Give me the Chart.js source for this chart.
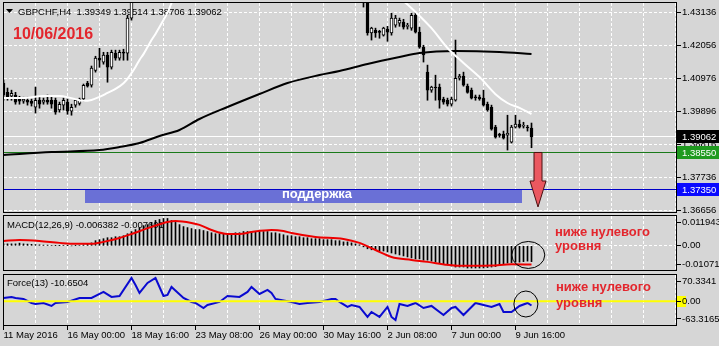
<!DOCTYPE html>
<html>
<head>
<meta charset="utf-8">
<title>GBPCHF H4</title>
<script src="https://cdn.jsdelivr.net/npm/chart.js@4.4.1/dist/chart.umd.min.js"></script>
<style>
  html, body { margin: 0; padding: 0; }
  body { width: 719px; height: 346px; background: #d6d6d6; position: relative; overflow: hidden; }
  canvas { position: absolute; left: 0; }
</style>
</head>
<body>
<canvas id="mainChart" width="719" height="213" style="top:0"></canvas>
<canvas id="macdChart" width="719" height="59" style="top:213px"></canvas>
<canvas id="forceChart" width="719" height="74" style="top:272px"></canvas>
<script>
// ---- H4 candles, bar 0 = 11 May 2016 08:00, bar 132 = 10 Jun 2016 08:00 ----
const opens = [
  1.4082, 1.4052, 1.4039, 1.4043, 1.4033, 1.4023, 1.4026, 1.4023, 1.4003, 1.4026,
  1.4020, 1.4026, 1.4026, 1.4026, 1.3994, 1.4010, 1.4020, 1.3990, 1.4010, 1.4016,
  1.4030, 1.4082, 1.4075, 1.4124, 1.4164, 1.4151, 1.4174, 1.4134, 1.4180, 1.4164,
  1.4183, 1.4180, 1.4295, 1.4386, 1.4400, 1.4425, 1.4440, 1.4460, 1.4452, 1.4470,
  1.4485, 1.4478, 1.4490, 1.4470, 1.4462, 1.4475, 1.4468, 1.4455, 1.4470, 1.4482,
  1.4495, 1.4488, 1.4476, 1.4490, 1.4505, 1.4498, 1.4510, 1.4522, 1.4515, 1.4530,
  1.4525, 1.4512, 1.4520, 1.4535, 1.4528, 1.4516, 1.4505, 1.4512, 1.4500, 1.4488,
  1.4495, 1.4480, 1.4472, 1.4485, 1.4478, 1.4465, 1.4470, 1.4458, 1.4462, 1.4450,
  1.4455, 1.4442, 1.4448, 1.4436, 1.4440, 1.4428, 1.4420, 1.4412, 1.4405, 1.4398,
  1.4388, 1.4350, 1.4246, 1.4255, 1.4249, 1.4239, 1.4259, 1.4246, 1.4272, 1.4278,
  1.4282, 1.4268, 1.4262, 1.4304, 1.4249, 1.4200, 1.4118, 1.4059, 1.4069, 1.4069,
  1.4030, 1.4026, 1.4013, 1.4026, 1.4098, 1.4105, 1.4072, 1.4059, 1.4036, 1.4036,
  1.4033, 1.4013, 1.4003, 1.3938, 1.3912, 1.3915, 1.3912, 1.3889, 1.3938, 1.3948,
  1.3941, 1.3938, 1.39349
];
const highs = [
  1.4092, 1.4066, 1.4059, 1.4052, 1.4039, 1.4036, 1.4036, 1.4030, 1.4069, 1.4039,
  1.4033, 1.4043, 1.4039, 1.4033, 1.4020, 1.4033, 1.4030, 1.4013, 1.4030, 1.4033,
  1.4079, 1.4088, 1.4138, 1.4170, 1.4196, 1.4183, 1.4183, 1.4190, 1.4190, 1.4190,
  1.4193, 1.4304, 1.4419, 1.4412, 1.4432, 1.4448, 1.4468, 1.4466, 1.4478, 1.4492,
  1.4494, 1.4498, 1.4496, 1.4478, 1.4484, 1.4482, 1.4474, 1.4478, 1.4490, 1.4502,
  1.4500, 1.4494, 1.4498, 1.4512, 1.4510, 1.4518, 1.4530, 1.4528, 1.4538, 1.4536,
  1.4530, 1.4528, 1.4542, 1.4540, 1.4534, 1.4522, 1.4520, 1.4518, 1.4506, 1.4502,
  1.4500, 1.4486, 1.4492, 1.4490, 1.4484, 1.4478, 1.4476, 1.4470, 1.4468, 1.4462,
  1.4460, 1.4455, 1.4454, 1.4448, 1.4446, 1.4434, 1.4426, 1.4418, 1.4410, 1.4404,
  1.4396, 1.4360, 1.4265, 1.4262, 1.4255, 1.4265, 1.4268, 1.4311, 1.4304, 1.4295,
  1.4291, 1.4278, 1.4311, 1.4314, 1.4265, 1.4206, 1.4141, 1.4072, 1.4108, 1.4079,
  1.4036, 1.4033, 1.4036, 1.4223, 1.4111, 1.4118, 1.4079, 1.4066, 1.4043, 1.4043,
  1.4059, 1.4020, 1.4010, 1.3944, 1.3918, 1.3925, 1.3977, 1.3944, 1.3977, 1.3961,
  1.3954, 1.3944, 1.39514
];
const lows = [
  1.4026, 1.4026, 1.4026, 1.4013, 1.4013, 1.4016, 1.4010, 1.4007, 1.3984, 1.4000,
  1.4013, 1.4013, 1.4000, 1.3980, 1.3987, 1.3994, 1.3980, 1.3977, 1.4003, 1.4010,
  1.4023, 1.4069, 1.4069, 1.4118, 1.4134, 1.4144, 1.4085, 1.4128, 1.4157, 1.4157,
  1.4157, 1.4157, 1.4288, 1.4378, 1.4392, 1.4415, 1.4432, 1.4444, 1.4446, 1.4464,
  1.4470, 1.4472, 1.4462, 1.4452, 1.4456, 1.4460, 1.4446, 1.4450, 1.4464, 1.4476,
  1.4480, 1.4468, 1.4470, 1.4484, 1.4490, 1.4492, 1.4504, 1.4508, 1.4510, 1.4518,
  1.4504, 1.4506, 1.4514, 1.4520, 1.4508, 1.4498, 1.4500, 1.4492, 1.4480, 1.4482,
  1.4472, 1.4464, 1.4466, 1.4470, 1.4458, 1.4460, 1.4450, 1.4452, 1.4442, 1.4444,
  1.4436, 1.4436, 1.4428, 1.4430, 1.4420, 1.4412, 1.4404, 1.4398, 1.4390, 1.4382,
  1.4331, 1.4239, 1.4223, 1.4232, 1.4229, 1.4236, 1.4219, 1.4239, 1.4265, 1.4268,
  1.4259, 1.4259, 1.4255, 1.4246, 1.4196, 1.4151, 1.4026, 1.4052, 1.4026, 1.4000,
  1.4013, 1.4007, 1.4007, 1.4023, 1.4092, 1.4072, 1.4049, 1.4030, 1.4026, 1.4026,
  1.4007, 1.3990, 1.3928, 1.3902, 1.3905, 1.3899, 1.3863, 1.3886, 1.3935, 1.3935,
  1.3935, 1.3925, 1.38706
];
const closes = [
  1.4043, 1.4036, 1.4049, 1.4020, 1.4023, 1.4030, 1.4020, 1.4016, 1.4026, 1.4013,
  1.4026, 1.4020, 1.4013, 1.3987, 1.4013, 1.4026, 1.3990, 1.4003, 1.4026, 1.4030,
  1.4075, 1.4072, 1.4131, 1.4164, 1.4157, 1.4174, 1.4134, 1.4183, 1.4164, 1.4183,
  1.4180, 1.4295, 1.4386, 1.4400, 1.4425, 1.4440, 1.4460, 1.4452, 1.4470, 1.4485,
  1.4478, 1.4490, 1.4470, 1.4462, 1.4475, 1.4468, 1.4455, 1.4470, 1.4482, 1.4495,
  1.4488, 1.4476, 1.4490, 1.4505, 1.4498, 1.4510, 1.4522, 1.4515, 1.4530, 1.4525,
  1.4512, 1.4520, 1.4535, 1.4528, 1.4516, 1.4505, 1.4512, 1.4500, 1.4488, 1.4495,
  1.4480, 1.4472, 1.4485, 1.4478, 1.4465, 1.4470, 1.4458, 1.4462, 1.4450, 1.4455,
  1.4442, 1.4448, 1.4436, 1.4440, 1.4428, 1.4420, 1.4412, 1.4405, 1.4398, 1.4388,
  1.4350, 1.4246, 1.4262, 1.4246, 1.4248, 1.4262, 1.4249, 1.4295, 1.4295, 1.4288,
  1.4265, 1.4270, 1.4304, 1.4249, 1.4200, 1.4174, 1.4059, 1.4069, 1.4066, 1.4026,
  1.4020, 1.4013, 1.4030, 1.4098, 1.4105, 1.4075, 1.4052, 1.4033, 1.4034, 1.4030,
  1.4010, 1.3994, 1.3931, 1.3905, 1.3911, 1.3902, 1.3918, 1.3938, 1.3948, 1.3938,
  1.3942, 1.3935, 1.39062
];

// moving averages (white = fast, black = slow), read at bar positions
const fastMaBars = [0, 5, 10, 14, 17, 20, 22, 24, 26, 28, 30, 31, 32, 33, 34, 35, 36, 37, 38, 39, 40, 41, 42, 43, 46, 55, 75, 90, 97, 100, 103, 107, 111, 115, 119, 123, 126, 129, 132];
const fastMaVals = [1.4033, 1.4033, 1.4040, 1.4040, 1.4033, 1.4024, 1.4027, 1.4037, 1.4050, 1.4063, 1.4082, 1.4096, 1.4115, 1.4135, 1.4158, 1.4177, 1.4200, 1.4223, 1.4243, 1.4266, 1.4289, 1.4312, 1.4344, 1.4371, 1.4436, 1.4501, 1.4518, 1.4452, 1.4387, 1.4351, 1.4315, 1.4262, 1.4197, 1.4148, 1.4102, 1.4046, 1.4017, 1.4001, 1.3981];
const slowMaBars = [0, 12, 24, 29, 34, 39, 44, 49, 56, 64, 71, 79, 84, 91, 99, 104, 113, 124, 132];
const slowMaVals = [1.38467, 1.38566, 1.38631, 1.38729, 1.38860, 1.39089, 1.39286, 1.39646, 1.40039, 1.40464, 1.40824, 1.41086, 1.41217, 1.41446, 1.41675, 1.41806, 1.41872, 1.41839, 1.41773];

// horizontal levels: bid, green line, support
const levelPrices = [1.39062, 1.38550, 1.37350];
const supportBars = [20.4, 129.6];
const supportPrices = [1.37350, 1.36880];
const arrowBar = 133.7;
const arrowPrices = [1.38550, 1.37617, 1.36766];

// MACD(12,26,9)
const macdHist = [
  0.0008, 0.0008, 0.0008, 0.0008, 0.0011, 0.0008, 0.0007, 0.0006, 0.0005, 0.0004,
  0.0003, 0.0003, 0.0002, 0.0001, 0.0001, 0.0002, 0.0001, 0.0000, 0.0001, 0.0002,
  0.0004, 0.0007, 0.0012, 0.0021, 0.0025, 0.0029, 0.0033, 0.0033, 0.0037, 0.0037,
  0.0041, 0.0049, 0.0058, 0.0066, 0.0074, 0.0082, 0.0086, 0.0095, 0.0103, 0.0107,
  0.0111, 0.0111, 0.0103, 0.0095, 0.0086, 0.0078, 0.0074, 0.0070, 0.0066, 0.0066,
  0.0062, 0.0058, 0.0053, 0.0049, 0.0049, 0.0049, 0.0049, 0.0049, 0.0053, 0.0053,
  0.0058, 0.0058, 0.0058, 0.0058, 0.0058, 0.0058, 0.0058, 0.0053, 0.0053, 0.0049,
  0.0045, 0.0041, 0.0041, 0.0037, 0.0037, 0.0033, 0.0033, 0.0029, 0.0029, 0.0029,
  0.0025, 0.0025, 0.0025, 0.0021, 0.0021, 0.0016, 0.0016, 0.0012, 0.0008, 0.0004,
  -0.0004, -0.0012, -0.0016, -0.0016, -0.0021, -0.0021, -0.0025, -0.0029, -0.0033, -0.0037,
  -0.0041, -0.0045, -0.0049, -0.0053, -0.0053, -0.0058, -0.0058, -0.0062, -0.0066, -0.0070,
  -0.0074, -0.0078, -0.0082, -0.0086, -0.0086, -0.0086, -0.0090, -0.0090, -0.0090, -0.0090,
  -0.0090, -0.0088, -0.0086, -0.0084, -0.0078, -0.0074, -0.0070, -0.0068, -0.0066, -0.0066,
  -0.0064, -0.0062, -0.0064
];
const macdSigBars = [0, 4, 9, 14, 18, 22, 25, 29, 32, 37, 41, 43, 47, 49, 52, 56, 59, 62, 67, 70, 72, 78, 85, 89, 93, 97, 102, 106, 111, 114, 118, 122, 127, 132];
const macdSigVals = [0.0020, 0.0024, 0.0020, 0.0012, 0.0008, 0.0008, 0.0016, 0.0032, 0.0048, 0.0077, 0.0097, 0.0101, 0.0093, 0.0085, 0.0064, 0.0048, 0.0048, 0.0056, 0.0064, 0.0060, 0.0052, 0.0036, 0.0028, 0.0012, -0.0017, -0.0045, -0.0057, -0.0065, -0.0077, -0.0081, -0.0081, -0.0080, -0.0075, -0.0076];

// Force(13)
const forceBars = [0, 2, 3, 5, 7, 8, 10, 12, 13, 16, 19, 22, 25, 27, 29, 32, 33, 34, 36, 38, 40, 41, 42, 45, 47, 48, 50, 51, 54, 56, 59, 61, 62, 64, 66, 67, 68, 72, 74, 76, 79, 82, 83, 84, 86, 87, 89, 91, 92, 94, 96, 97, 98, 99, 101, 103, 105, 107, 110, 112, 113, 115, 117, 118, 120, 122, 124, 125, 127, 129, 131, 132];
const forceVals = [8.7, 11.3, 8.7, 6.2, -4.1, -6.7, -4.1, -11.8, -4.1, -1.5, 8.7, 8.7, 24.2, 11.3, 13.9, 60.1, 42.1, 21.6, 47.3, 60.1, 13.9, 16.4, 37.0, 8.7, -1.5, -4.1, -17.0, -9.3, -1.5, 13.9, 11.3, 24.2, 37.0, 19.0, 29.3, 21.6, 6.2, -1.5, -6.7, -4.1, -1.5, 6.2, 6.2, -1.5, -14.4, -9.3, -14.4, -40.1, -27.2, -40.1, -14.4, -40.1, -47.8, -6.7, -11.8, -4.1, -17.0, -11.8, -35.0, -17.0, -14.4, -35.0, -14.4, -4.1, -9.3, -14.4, -6.7, -27.2, -27.2, -11.8, -4.1, -10.65];
const forceLevel = 0;

// axes
const xGridBars = [0, 8, 16, 24, 32, 40, 48, 56, 64, 72, 80, 88, 96, 104, 112, 120, 128, 136, 144, 152, 160, 168];
const xLabelBars = [0, 16, 32, 48, 64, 80, 96, 112, 128];
const xLabels = ['11 May 2016', '16 May 00:00', '18 May 16:00', '23 May 08:00', '26 May 00:00', '30 May 16:00', '2 Jun 08:00', '7 Jun 00:00', '9 Jun 16:00'];
const priceTicks = [1.43136, 1.42056, 1.40976, 1.39896, 1.38816, 1.37736, 1.36656];
const macdTickVals = [0.0094, 0, -0.0074];
const macdTickText = ['0.011943', '0.00', '-0.010714'];
const forceTickVals = [50.5, 0, -45.3];
const forceTickText = ['70.3341', '0.00', '-63.3165'];

const X_MIN = -0.125, X_MAX = 168.375;
const Y_MIN = 1.36569, Y_MAX = 1.43476;
const MACD_MIN = -0.0102, MACD_MAX = 0.0125;
const FORCE_MIN = -63.3165, FORCE_MAX = 70.3341;

const FONT = '"Liberation Sans", Arial, sans-serif';
const RED_TEXT = '#e3262d';
const CLEAR = 'rgba(0,0,0,0)';

Chart.defaults.font.family = FONT;
Chart.defaults.font.size = 9.5;
Chart.defaults.color = '#000';
Chart.defaults.animation = false;
Chart.defaults.events = [];
Chart.defaults.plugins.legend.display = false;
Chart.defaults.plugins.tooltip.enabled = false;

function xAxis(withLabels) {
  return {
    type: 'linear', min: X_MIN, max: X_MAX, offset: false,
    afterBuildTicks: s => { s.ticks = xGridBars.map(v => ({ value: v })); },
    afterFit: s => { s.height = withLabels ? 20 : 0; s.paddingLeft = 0; s.paddingRight = 0; },
    grid: {
      drawOnChartArea: false, offset: false, drawTicks: withLabels, tickLength: 4,
      tickColor: c => (c.tick && xLabelBars.includes(c.tick.value)) ? '#000' : CLEAR
    },
    border: { display: false },
    ticks: {
      display: withLabels, autoSkip: false, maxRotation: 0, minRotation: 0, align: 'start', padding: 0,
      callback: v => { const k = xLabelBars.indexOf(v); return k < 0 ? '' : xLabels[k]; }
    }
  };
}

function yAxis(min, max, vals, text) {
  return {
    type: 'linear', position: 'right', min, max, beginAtZero: false,
    afterBuildTicks: s => { s.ticks = vals.map(v => ({ value: v })); },
    afterFit: s => { s.width = 42; s.paddingTop = 0; s.paddingBottom = 0; },
    grid: { drawOnChartArea: false, tickLength: 4, tickColor: '#000' },
    border: { display: false },
    ticks: { padding: 1, autoSkip: false, callback: (v, i) => text[i] }
  };
}

// dashed white grid at the scales' tick positions, dashes laid as 1px rects
function drawGrid(chart, yGridVals) {
  const { ctx, chartArea: a } = chart;
  const x = chart.scales.x, y = chart.scales.y;
  ctx.save();
  ctx.fillStyle = '#ffffff';
  for (const b of xGridBars) {
    const px = Math.floor(x.getPixelForValue(b));
    if (px <= a.left || px >= a.right - 1) continue;
    for (let yy = a.top + 1; yy < a.bottom - 1; yy += 5) {
      ctx.fillRect(px, yy, 1, Math.min(3, a.bottom - 1 - yy));
    }
  }
  for (const v of yGridVals) {
    const py = Math.floor(y.getPixelForValue(v));
    if (py <= a.top || py >= a.bottom - 1) continue;
    for (let xx = a.left + 1; xx < a.right - 1; xx += 5) {
      ctx.fillRect(xx, py, Math.min(3, a.right - 1 - xx), 1);
    }
  }
  ctx.restore();
}

function frame(chart) {
  const { ctx, chartArea: a } = chart;
  ctx.save();
  ctx.strokeStyle = '#000';
  ctx.lineWidth = 1;
  ctx.strokeRect(a.left + 0.5, a.top + 0.5, a.right - a.left - 1, a.bottom - a.top - 1);
  ctx.restore();
}

function write(ctx, s, x, y, font, color) {
  ctx.font = font;
  ctx.fillStyle = color;
  ctx.textAlign = 'left';
  ctx.textBaseline = 'alphabetic';
  ctx.fillText(s, x, y);
}

function ellipse(ctx, cx, cy, rx, ry) {
  ctx.save();
  ctx.strokeStyle = '#000';
  ctx.lineWidth = 1;
  ctx.beginPath();
  ctx.ellipse(cx, cy, rx, ry, 0, 0, Math.PI * 2);
  ctx.stroke();
  ctx.restore();
}

const levelLine = ['#ffffff', '#1a7a1a', '#0000c8'];
const levelBox = ['#000000', '#1f9a1f', '#0a0aff'];

const mainDecor = {
  id: 'mainDecor',
  beforeDatasetsDraw(chart) {
    drawGrid(chart, priceTicks);
    const { ctx, chartArea: a, scales: { x, y } } = chart;
    ctx.save();
    ctx.beginPath();
    ctx.rect(a.left, a.top, a.right - a.left, a.bottom - a.top);
    ctx.clip();
    // support zone
    const zx0 = Math.round(x.getPixelForValue(supportBars[0]));
    const zx1 = Math.round(x.getPixelForValue(supportBars[1]));
    const zy0 = Math.round(y.getPixelForValue(supportPrices[0]));
    const zy1 = Math.round(y.getPixelForValue(supportPrices[1]));
    ctx.fillStyle = '#6a70d6';
    ctx.fillRect(zx0, zy0, zx1 - zx0, zy1 - zy0);
    write(ctx, 'поддержка', 282, 198, 'bold 13px ' + FONT, '#ffffff');
    levelPrices.forEach((p, i) => {
      const py = Math.floor(y.getPixelForValue(p)) + 0.5;
      ctx.strokeStyle = levelLine[i];
      ctx.lineWidth = 1;
      ctx.beginPath();
      ctx.moveTo(a.left, py);
      ctx.lineTo(a.right, py);
      ctx.stroke();
    });
    // title
    ctx.fillStyle = '#000';
    ctx.beginPath();
    ctx.moveTo(6, 9); ctx.lineTo(13, 9); ctx.lineTo(9.5, 13); ctx.closePath();
    ctx.fill();
    write(ctx, 'GBPCHF,H4  1.39349 1.39514 1.38706 1.39062', 18, 15, '9.5px ' + FONT, '#000');
    write(ctx, '10/06/2016', 13, 39, 'bold 16px ' + FONT, RED_TEXT);
    ctx.restore();
  },
  afterDatasetsDraw(chart) {
    const { ctx, scales: { x, y } } = chart;
    const cx = Math.round(x.getPixelForValue(arrowBar));
    const yTop = y.getPixelForValue(arrowPrices[0]);
    const yNeck = y.getPixelForValue(arrowPrices[1]);
    const yTip = y.getPixelForValue(arrowPrices[2]);
    ctx.save();
    ctx.beginPath();
    ctx.moveTo(cx - 4, yTop);
    ctx.lineTo(cx + 4, yTop);
    ctx.lineTo(cx + 4, yNeck);
    ctx.lineTo(cx + 8, yNeck);
    ctx.lineTo(cx, yTip);
    ctx.lineTo(cx - 8, yNeck);
    ctx.lineTo(cx - 4, yNeck);
    ctx.closePath();
    ctx.fillStyle = '#ea5860';
    ctx.fill();
    ctx.strokeStyle = '#4a1010';
    ctx.lineWidth = 1;
    ctx.stroke();
    ctx.restore();
  },
  afterDraw(chart) {
    frame(chart);
    const { ctx, chartArea: a, scales: { y } } = chart;
    ctx.save();
    levelPrices.forEach((p, i) => {
      const py = Math.floor(y.getPixelForValue(p));
      ctx.fillStyle = levelBox[i];
      ctx.fillRect(a.right, py - 6, 719 - a.right, 13);
      write(ctx, p.toFixed(5), a.right + 5, py + 4, '9.5px ' + FONT, '#ffffff');
    });
    ctx.restore();
  }
};

const macdDecor = {
  id: 'macdDecor',
  beforeDatasetsDraw(chart) {
    drawGrid(chart, [0]);
    const { ctx } = chart;
    ctx.save();
    write(ctx, 'MACD(12,26,9) -0.006382 -0.007601', 7, 15, '9.5px ' + FONT, '#000');
    ctx.restore();
  },
  afterDatasetsDraw(chart) {
    const { ctx, scales: { x, y } } = chart;
    ctx.save();
    write(ctx, 'ниже нулевого', 555, 22.5, 'bold 13px ' + FONT, RED_TEXT);
    write(ctx, 'уровня', 555, 37, 'bold 13px ' + FONT, RED_TEXT);
    ellipse(ctx, x.getPixelForValue(131.2), y.getPixelForValue(-0.0037), 16.5, 13.5);
    ctx.restore();
  },
  afterDraw(chart) { frame(chart); }
};

const forceDecor = {
  id: 'forceDecor',
  beforeDraw(chart) {
    const { ctx, chartArea: a, scales: { y } } = chart;
    const zy = Math.floor(y.getPixelForValue(forceLevel));
    ctx.save();
    ctx.fillStyle = '#ffff00';
    ctx.fillRect(a.right, zy - 5, 9, 11);
    ctx.restore();
  },
  beforeDatasetsDraw(chart) {
    drawGrid(chart, []);
    const { ctx } = chart;
    ctx.save();
    write(ctx, 'Force(13) -10.6504', 7, 14, '9.5px ' + FONT, '#000');
    ctx.restore();
  },
  afterDatasetsDraw(chart) {
    const { ctx, scales: { x, y } } = chart;
    ctx.save();
    write(ctx, 'ниже нулевого', 556, 19, 'bold 13px ' + FONT, RED_TEXT);
    write(ctx, 'уровня', 556, 35, 'bold 13px ' + FONT, RED_TEXT);
    ellipse(ctx, x.getPixelForValue(130.6), y.getPixelForValue(-6.8), 12, 13);
    ctx.restore();
  },
  afterDraw(chart) { frame(chart); }
};

// price panel
new Chart(document.getElementById('mainChart'), {
  type: 'bar',
  data: {
    datasets: [
      {
        type: 'line', data: fastMaBars.map((b, i) => ({ x: b, y: fastMaVals[i] })),
        borderColor: '#ffffff', borderWidth: 2, pointRadius: 0, cubicInterpolationMode: 'monotone', clip: 0
      },
      {
        type: 'line', data: slowMaBars.map((b, i) => ({ x: b, y: slowMaVals[i] })),
        borderColor: '#000000', borderWidth: 2, pointRadius: 0, cubicInterpolationMode: 'monotone', clip: 0
      },
      {
        data: opens.map((o, i) => ({ x: i, y: [o, closes[i]] })),
        backgroundColor: opens.map((o, i) => closes[i] >= o ? '#ffffff' : '#000000'),
        borderColor: '#000000', borderWidth: 1, borderSkipped: false,
        barThickness: 3, minBarLength: 1, grouped: false, clip: 0
      },
      {
        data: lows.map((l, i) => ({ x: i, y: [l, highs[i]] })),
        backgroundColor: '#000000', barThickness: 1, grouped: false, clip: 0
      }
    ]
  },
  options: {
    responsive: false,
    layout: { autoPadding: false, padding: { left: 3, top: 2, right: 0, bottom: 0 } },
    scales: {
      x: xAxis(false),
      y: yAxis(Y_MIN, Y_MAX, priceTicks, priceTicks.map(v => v.toFixed(5)))
    }
  },
  plugins: [mainDecor]
});

// MACD panel
new Chart(document.getElementById('macdChart'), {
  type: 'bar',
  data: {
    datasets: [
      {
        type: 'line', data: macdSigBars.map((b, i) => ({ x: b, y: macdSigVals[i] })),
        borderColor: '#ee0000', borderWidth: 2, pointRadius: 0, cubicInterpolationMode: 'monotone', clip: 0
      },
      {
        data: macdHist.map((v, i) => ({ x: i, y: v })),
        backgroundColor: '#000000', barThickness: 1, grouped: false, clip: 0
      }
    ]
  },
  options: {
    responsive: false,
    layout: { autoPadding: false, padding: { left: 3, top: 2, right: 0, bottom: 1 } },
    scales: {
      x: xAxis(false),
      y: yAxis(MACD_MIN, MACD_MAX, macdTickVals, macdTickText)
    }
  },
  plugins: [macdDecor]
});

// Force Index panel
new Chart(document.getElementById('forceChart'), {
  type: 'line',
  data: {
    datasets: [
      {
        data: [{ x: X_MIN, y: forceLevel }, { x: X_MAX, y: forceLevel }],
        borderColor: '#ffff00', borderWidth: 2, pointRadius: 0, clip: 0
      },
      {
        data: forceBars.map((b, i) => ({ x: b, y: forceVals[i] })),
        borderColor: '#0a0ad0', borderWidth: 2, pointRadius: 0, tension: 0, clip: 0
      }
    ]
  },
  options: {
    responsive: false,
    layout: { autoPadding: false, padding: { left: 3, top: 2, right: 0, bottom: 0 } },
    scales: {
      x: xAxis(true),
      y: yAxis(FORCE_MIN, FORCE_MAX, forceTickVals, forceTickText)
    }
  },
  plugins: [forceDecor]
});
</script>
</body>
</html>
